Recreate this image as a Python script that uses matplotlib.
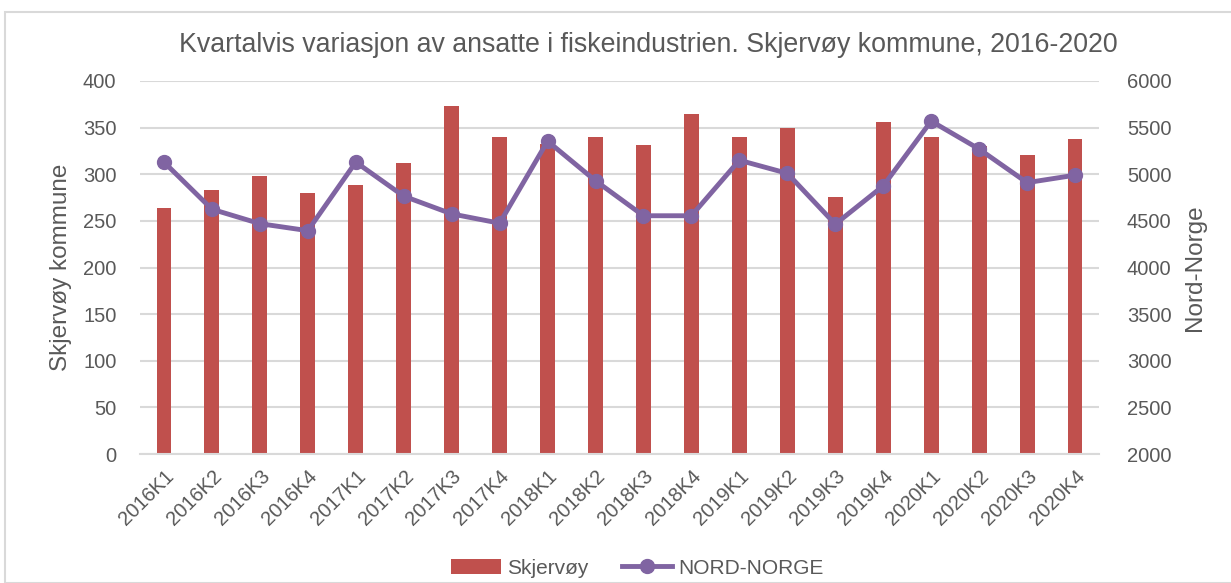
import numpy as np
import matplotlib
matplotlib.use("Agg")
import matplotlib.pyplot as plt
from matplotlib.patches import Rectangle

plt.rcParams['font.family'] = ['Liberation Sans', 'DejaVu Sans']

quarters = ["2016K1", "2016K2", "2016K3", "2016K4",
            "2017K1", "2017K2", "2017K3", "2017K4",
            "2018K1", "2018K2", "2018K3", "2018K4",
            "2019K1", "2019K2", "2019K3", "2019K4",
            "2020K1", "2020K2", "2020K3", "2020K4"]
skjervoy = [264, 283, 298, 280, 288, 312, 373, 340,
            332, 340, 331, 365, 340, 350, 276, 356,
            340, 330, 321, 338]
nord_norge = [5130, 4625, 4470, 4395, 5130, 4765, 4575, 4475,
              5355, 4930, 4555, 4555, 5150, 5010, 4465, 4875,
              5570, 5270, 4910, 4990]

bar_color = "#c0504d"
line_color = "#8064a2"
text_color = "#595959"
grid_color = "#d9d9d9"

fig = plt.figure(figsize=(12.31, 5.83), dpi=100)
fig.patches.append(Rectangle((5 / 1231, 0), 1.0, 1 - 12 / 583, transform=fig.transFigure,
                             fill=False, edgecolor=grid_color, linewidth=1.5))

ax = fig.add_axes([140 / 1231, 1 - 454 / 583, 959 / 1231, 373 / 583])
x = np.arange(len(quarters))
bars = ax.bar(x, skjervoy, width=0.31, color=bar_color, label="Skjervøy", zorder=2)
ax.set_ylim(0, 400)
ax.set_xlim(-0.5, len(quarters) - 0.5)
ax.set_yticks(np.arange(0, 401, 50))
ax.yaxis.grid(True, color=grid_color, linewidth=1.5, zorder=0)
ax.set_axisbelow(True)
for s in ["top", "left", "right"]:
    ax.spines[s].set_visible(False)
ax.spines["bottom"].set_color(grid_color)
ax.spines["bottom"].set_linewidth(1.5)
ax.tick_params(axis="y", length=0, labelsize=14.5, colors=text_color, pad=17)
ax.tick_params(axis="x", length=0, labelsize=14.5, colors=text_color, pad=9)
ax.set_xticks(x)
ax.set_xticklabels(quarters, rotation=45, ha="right", rotation_mode="anchor")
ax.set_ylabel("Skjervøy kommune", fontsize=17.5, color=text_color, labelpad=8)

ax2 = ax.twinx()
line, = ax2.plot(x, nord_norge, color=line_color, linewidth=3.5, marker="o",
                 markersize=10, label="NORD-NORGE", zorder=3)
ax2.set_ylim(2000, 6000)
ax2.set_yticks(np.arange(2000, 6001, 500))
for s in ["top", "left", "right", "bottom"]:
    ax2.spines[s].set_visible(False)
ax2.tick_params(axis="y", length=0, labelsize=14.5, colors=text_color, pad=20)
ax2.set_ylabel("Nord-Norge", fontsize=17.5, color=text_color, labelpad=9)

fig.text(648 / 1231, 1 - 45 / 583,
         "Kvartalvis variasjon av ansatte i fiskeindustrien. Skjervøy kommune, 2016-2020",
         fontsize=19.3, color=text_color, ha="center", va="center")

fig.legend([bars, line], ["Skjervøy", "NORD-NORGE"], loc="center",
           bbox_to_anchor=(637 / 1231, 1 - 568 / 583), ncol=2, frameon=False,
           fontsize=15, labelcolor=text_color, handlelength=2.4, handletextpad=0.3,
           columnspacing=1.6)

fig.savefig("out.png", dpi=100)
